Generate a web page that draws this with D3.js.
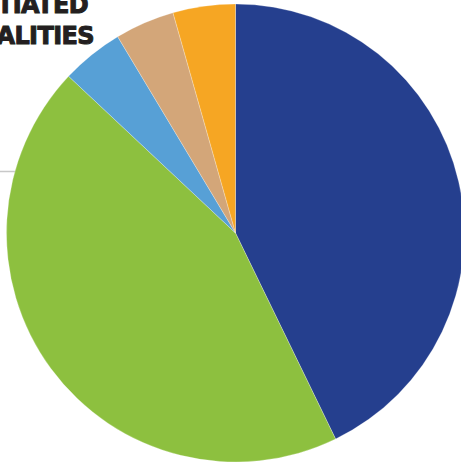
<!DOCTYPE html>
<html>
<head>
<meta charset="utf-8">
<script src="https://cdn.jsdelivr.net/npm/d3@7"></script>
<style>
  html, body { margin: 0; padding: 0; background: #ffffff; overflow: hidden; }
  svg { display: block; }
</style>
</head>
<body>
<svg id="chart" width="461" height="463"></svg>
<script>
const categories = ["Category 1", "Category 2", "Category 3", "Category 4", "Category 5"];
const values = [42.8, 44.2, 4.4, 4.2, 4.4];
const colors = ["#253f8e", "#8dc03f", "#57a0d6", "#d3a679", "#f6a623"];
const titleLines = ["UNSUBSTANTIATED", "FATALITIES"];

const svg = d3.select("#chart");
const cx = 235.5, cy = 233, r = 229;

// gray rule behind the pie
svg.append("line")
  .attr("x1", 0).attr("x2", 40)
  .attr("y1", 171.5).attr("y2", 171.5)
  .attr("stroke", "#c8c8c8").attr("stroke-width", 1.6);

// title text (partially outside the frame, as in the reference)
const title = svg.append("g")
  .attr("font-family", "'DejaVu Sans', sans-serif")
  .attr("font-weight", "bold")
  .attr("font-size", 24)
  .attr("fill", "#231f20")
  .attr("stroke", "#231f20")
  .attr("stroke-width", 1)
  .attr("text-anchor", "end");
title.append("text")
  .attr("x", 88).attr("y", 13)
  .attr("letter-spacing", -0.6)
  .text(titleLines[0]);
title.append("text")
  .attr("x", 94).attr("y", 44)
  .attr("letter-spacing", -0.6)
  .text(titleLines[1]);

const data = categories.map((c, i) => ({ name: c, value: values[i], color: colors[i] }));
const pie = d3.pie().sort(null).value(d => d.value).startAngle(0).endAngle(2 * Math.PI);
const arc = d3.arc().innerRadius(0).outerRadius(r);

svg.append("g")
  .attr("transform", `translate(${cx},${cy})`)
  .selectAll("path")
  .data(pie(data))
  .join("path")
  .attr("d", arc)
  .attr("fill", d => d.data.color)
  .attr("stroke", "#ffffff")
  .attr("stroke-opacity", 0.5)
  .attr("stroke-width", 0.5);
</script>
</body>
</html>
